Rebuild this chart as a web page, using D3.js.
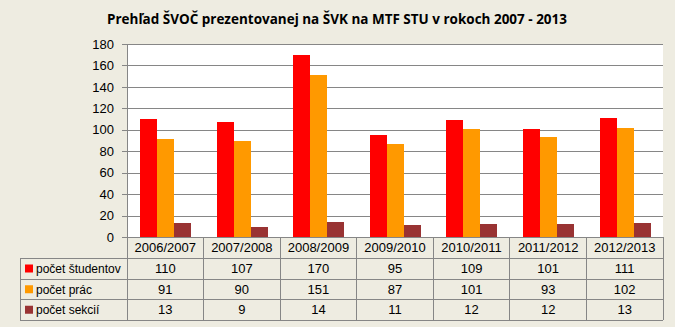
<!DOCTYPE html>
<html><head><meta charset="utf-8">
<script src="https://cdn.jsdelivr.net/npm/d3@7"></script>
<style>
html,body{margin:0;padding:0;background:#EEECE1;}
svg{display:block;}
text{font-family:"Liberation Sans",Arial,sans-serif;fill:#000;}
</style></head>
<body>
<svg id="c" width="675" height="327"></svg>
<script>
const title = "Prehľad ŠVOČ prezentovanej na ŠVK na MTF STU v rokoch 2007 - 2013";
const categories = ["2006/2007","2007/2008","2008/2009","2009/2010","2010/2011","2011/2012","2012/2013"];
const seriesNames = ["počet študentov","počet prác","počet sekcií"];
const studenti = [110,107,170,95,109,101,111];
const prace = [91,90,151,87,101,93,102];
const sekcie = [13,9,14,11,12,12,13];
const colors = ["#FF0000","#FF9900","#993333"];
const yTicks = [0,20,40,60,80,100,120,140,160,180];

const series = [studenti, prace, sekcie];
const svg = d3.select("#c");
svg.append("rect").attr("width",675).attr("height",327).attr("fill","#EEECE1");

const L = 127, R = 663, T = 44, B = 237;
const x = d3.scaleBand().domain(categories).range([L, R]).padding(0);
const bw = x.bandwidth();
const xs = d3.scaleBand().domain(seriesNames).range([bw*0.172, bw*0.172 + bw*0.666]).padding(0);
const y = d3.scaleLinear().domain([0,180]).range([B, T]);

// plot area
svg.append("rect").attr("x",L).attr("y",T).attr("width",R-L).attr("height",B-T).attr("fill","#fff");

// title
svg.append("text").attr("x",337).attr("y",24).attr("text-anchor","middle")
  .style("font-family","'Open Sans','Liberation Sans',sans-serif")
  .style("font-weight","bold").style("font-size","14px")
  .attr("textLength",460).attr("lengthAdjust","spacingAndGlyphs")
  .text(title);

// y axis with gridlines
const ax = svg.append("g").attr("transform",`translate(${L-5},0)`)
  .call(d3.axisLeft(y).tickValues(yTicks).tickSize(-(R-L+5)).tickPadding(8).tickFormat(d3.format("d")));
ax.select(".domain").remove();
ax.selectAll(".tick line").attr("stroke","#868686").attr("shape-rendering","crispEdges");
ax.selectAll(".tick text").style("font-size","13px").style("font-family","'Liberation Sans',Arial,sans-serif").attr("fill","#000");

// bars
series.forEach((vals, si) => {
  svg.append("g").selectAll("rect").data(vals).join("rect")
    .attr("x",(d,i)=>x(categories[i]) + xs(seriesNames[si]))
    .attr("width",xs.bandwidth())
    .attr("y",d=>y(d))
    .attr("height",d=>y(0)-y(d))
    .attr("fill",colors[si])
    .attr("shape-rendering","crispEdges");
});

// vertical axis line
svg.append("line").attr("x1",L).attr("x2",L).attr("y1",T).attr("y2",B)
  .attr("stroke","#868686").attr("shape-rendering","crispEdges");

// data table
const rowY = [B, 258, 279, 299.5, 320];
const tableLeft = 20;
const g = svg.append("g").attr("stroke","#868686").attr("shape-rendering","crispEdges");
g.append("line").attr("x1",L).attr("x2",R).attr("y1",rowY[0]).attr("y2",rowY[0]);
for (let r=1; r<rowY.length; r++) {
  g.append("line").attr("x1",tableLeft).attr("x2",R).attr("y1",rowY[r]).attr("y2",rowY[r]);
}
g.append("line").attr("x1",tableLeft).attr("x2",tableLeft).attr("y1",rowY[1]).attr("y2",rowY[4]);
categories.forEach(c => {
  g.append("line").attr("x1",x(c)).attr("x2",x(c)).attr("y1",rowY[0]).attr("y2",rowY[4]);
});
g.append("line").attr("x1",R).attr("x2",R).attr("y1",rowY[0]).attr("y2",rowY[4]);

// header text
svg.append("g").selectAll("text").data(categories).join("text")
  .attr("x",d=>x(d)+bw/2).attr("y",(rowY[0]+rowY[1])/2+4.5)
  .attr("text-anchor","middle").style("font-size","13px").text(d=>d);

// rows
series.forEach((vals, si) => {
  const cy = (rowY[si+1]+rowY[si+2])/2;
  svg.append("rect").attr("x",25).attr("y",cy-4).attr("width",8).attr("height",8).attr("fill",colors[si]);
  svg.append("text").attr("x",36).attr("y",cy+4.5).style("font-size","12px").text(seriesNames[si]);
  svg.append("g").selectAll("text").data(vals).join("text")
    .attr("x",(d,i)=>x(categories[i])+bw/2).attr("y",cy+4.5)
    .attr("text-anchor","middle").style("font-size","13px").text(d=>d);
});
</script>
</body></html>
